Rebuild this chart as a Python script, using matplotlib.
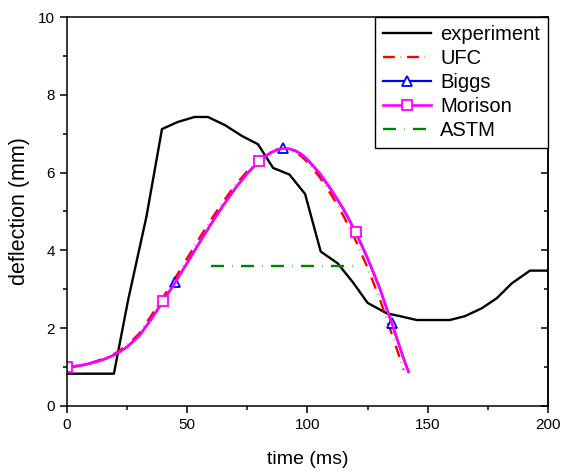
import matplotlib
matplotlib.use('Agg')
import matplotlib.pyplot as plt
from matplotlib.ticker import MultipleLocator

plt.rcParams['font.family'] = ['Liberation Sans', 'DejaVu Sans']

# experiment (measured)
exp_t = [0, 19.5, 25.4, 33, 39.5, 46, 53, 58.6, 65.7, 72.8, 79.4, 85.7, 92.5, 99,
         105.5, 112.5, 119, 125, 133, 138.4, 145.4, 159.2, 165.5, 172.4, 178.7,
         184.9, 192.5, 200]
exp_v = [0.83, 0.83, 2.72, 4.86, 7.12, 7.3, 7.43, 7.43, 7.22, 6.94, 6.73, 6.12,
         5.95, 5.45, 3.97, 3.67, 3.17, 2.65, 2.38, 2.31, 2.21, 2.21, 2.31, 2.51,
         2.77, 3.15, 3.48, 3.48]

# model predictions
mod_t = [0, 5, 10, 15, 20, 25, 30, 35, 40, 45, 50, 55, 60, 65, 70, 75, 80,
         82.5, 85, 87.5, 90, 92.5, 95, 97.5, 100, 105, 110, 115, 120, 125, 130,
         135, 140, 142]
ufc_v = [1.0, 1.04, 1.11, 1.21, 1.35, 1.56, 1.86, 2.32, 2.8, 3.29, 3.8, 4.31,
         4.8, 5.26, 5.68, 6.04, 6.34, 6.45, 6.54, 6.6, 6.62, 6.59, 6.52, 6.42,
         6.27, 5.89, 5.42, 4.88, 4.26, 3.55, 2.76, 1.86, 0.93]
biggs_v = [1.0, 1.03, 1.1, 1.19, 1.32, 1.52, 1.8, 2.23, 2.7, 3.18, 3.68, 4.19,
           4.69, 5.16, 5.6, 5.98, 6.3, 6.42, 6.52, 6.59, 6.62, 6.61, 6.56, 6.47,
           6.33, 5.98, 5.54, 5.05, 4.47, 3.79, 3.03, 2.13, 1.21, 0.88]
morison_v = [1.0, 1.03, 1.1, 1.19, 1.32, 1.52, 1.8, 2.23, 2.7, 3.18, 3.68, 4.19,
             4.69, 5.16, 5.6, 5.98, 6.3, 6.42, 6.52, 6.59, 6.62, 6.61, 6.56,
             6.47, 6.34, 5.99, 5.55, 5.06, 4.48, 3.8, 3.04, 2.14, 1.22, 0.88]
biggs_marks = [mod_t.index(t) for t in (0, 45, 90, 135)]
morison_marks = [mod_t.index(t) for t in (0, 40, 80, 120)]

astm_t = [60, 120.4]
astm_v = [3.6, 3.6]

fig = plt.figure(figsize=(5.64, 4.74), dpi=100)
ax = fig.add_axes([0.1188, 0.1435, 0.8528, 0.8206])

ax.plot(exp_t, exp_v, color='black', lw=1.7, label='experiment')
ax.plot(mod_t[:len(ufc_v)], ufc_v, color='red', lw=1.7,
        ls=(0, (5, 2.5, 0.2, 2.5)), label='UFC')
ax.plot(mod_t, biggs_v, color='blue', lw=1.6, marker='^', ms=7,
        mfc='white', mec='blue', mew=1.3, markevery=biggs_marks, label='Biggs')
ax.plot(mod_t, morison_v, color='magenta', lw=1.9, marker='s', ms=6.5,
        mfc='white', mec='magenta', mew=1.3, markevery=morison_marks,
        label='Morison')
ax.plot(astm_t, astm_v, color='green', lw=1.7, ls=(0, (5.5, 3.5, 0.2, 3.5)),
        label='ASTM')

ax.set_xlim(0, 200)
ax.set_ylim(0, 10)
ax.xaxis.set_major_locator(MultipleLocator(50))
ax.xaxis.set_minor_locator(MultipleLocator(25))
ax.yaxis.set_major_locator(MultipleLocator(2))
ax.yaxis.set_minor_locator(MultipleLocator(1))
ax.tick_params(which='both', direction='out', labelsize=11, width=1.1,
               top=False, right=False)
ax.tick_params(which='major', length=5)
ax.tick_params(which='minor', length=3)
for s in ax.spines.values():
    s.set_linewidth(1.1)

# inward ticks on the right edge
sec = ax.secondary_yaxis('right')
sec.yaxis.set_major_locator(MultipleLocator(2))
sec.yaxis.set_minor_locator(MultipleLocator(1))
sec.tick_params(which='both', direction='in', labelright=False, width=1.1)
sec.tick_params(which='major', length=5)
sec.tick_params(which='minor', length=3)
sec.spines['right'].set_linewidth(1.1)

ax.set_xlabel('time (ms)', fontsize=14, labelpad=14)
ax.set_ylabel('deflection (mm)', fontsize=15.5, labelpad=6)

leg = ax.legend(loc='upper right', fontsize=14.5, borderaxespad=0,
                fancybox=False, framealpha=1, edgecolor='black',
                handlelength=2.4, handletextpad=0.45, borderpad=0.4,
                labelspacing=0.25)
leg.get_frame().set_linewidth(1.0)

fig.savefig('out.png', dpi=100)
